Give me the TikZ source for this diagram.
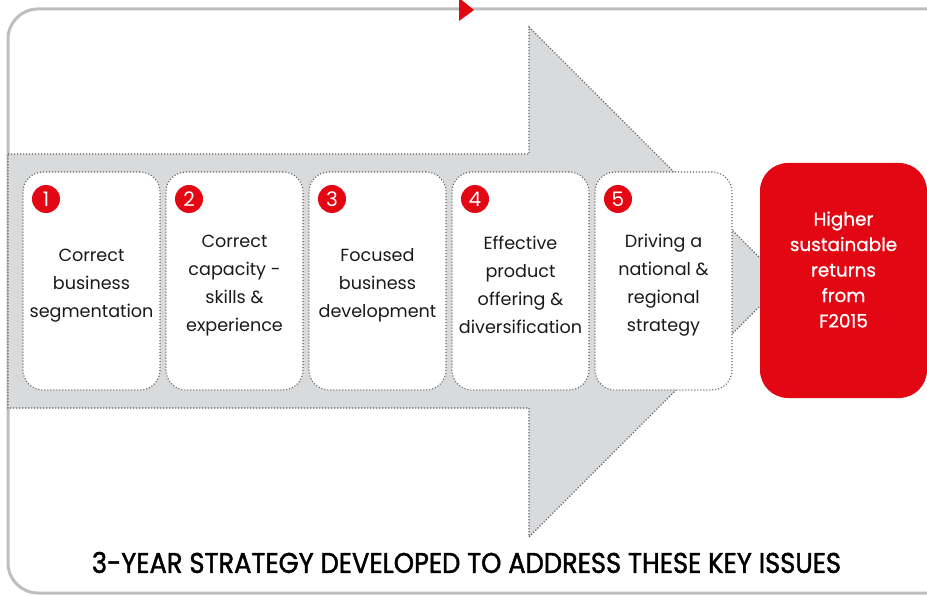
\documentclass[tikz,border=0pt]{standalone}
\usepackage{fontspec}
\setmainfont{Poppins}
\newfontfamily\goalfont[FakeBold=0.8]{Poppins}
\newfontfamily\captionfont[FakeBold=1.6]{Poppins}
\newcommand\topgap{\rule{0pt}{21pt}}
\definecolor{brandred}{HTML}{E30613}
\definecolor{framegray}{HTML}{BDBEC0}
\definecolor{arrowgray}{HTML}{D9DADC}
\definecolor{dotgray}{HTML}{5F6062}
\definecolor{inkdark}{HTML}{1A1A1A}
\begin{document}
\begin{tikzpicture}[x=1pt,y=-1pt,
  dots/.style={draw=dotgray, line width=1.1pt, dash pattern=on 1.1pt off 1.9pt},
  stepbox/.style={dots, fill=white, rounded corners=20pt, minimum width=137pt,
    minimum height=218pt, align=center, inner sep=0pt, text=inkdark,
    font=\fontsize{17.6}{28}\selectfont},
  badge/.style={circle, fill=brandred, minimum size=28pt, inner sep=0pt,
    text=white, font=\fontsize{20}{20}\selectfont},
  goal/.style={fill=brandred, rounded corners=28pt, minimum width=167pt,
    minimum height=235pt, align=center, inner sep=0pt, text=white,
    font=\goalfont\fontsize{18.4}{25.5}\selectfont,
    execute at end node={\rule[-22pt]{0pt}{0pt}}}
]
\useasboundingbox (0,0) rectangle (927,596);
\clip (0,0) rectangle (927,596);

% outer frame, open to the right
\draw[framegray, line width=3pt, rounded corners=30pt]
  (940,9) -- (8,9) -- (8,593) -- (940,593);
% small marker on the frame
\fill[brandred] (459,-2) -- (474,10) -- (459,21) -- cycle;

% big background arrow
\path[dots, fill=arrowgray]
  (8,154) -- (529,154) -- (529,27) -- (784,282) -- (529,537)
  -- (529,408) -- (8,408) -- cycle;

% the five steps
\node[stepbox] (s1) at (91.5,281) {\topgap Correct\\business\\segmentation};
\node[stepbox] (s2) at (234.5,281) {\topgap Correct\\capacity -\\skills \&\\experience};
\node[stepbox] (s3) at (377.5,281) {\topgap Focused\\business\\development};
\node[stepbox] (s4) at (520.5,281) {\topgap Effective\\product\\offering \&\\diversification};
\node[stepbox] (s5) at (663.5,281) {\topgap Driving a\\national \&\\regional\\strategy};

\node[badge] (b1) at (46,199) {1};
\node[badge] (b2) at (189,199) {2};
\node[badge] (b3) at (332,199) {3};
\node[badge] (b4) at (475,199) {4};
\node[badge] (b5) at (618,199) {5};

% outcome
\node[goal] (goal) at (843.5,280.5) {Higher\\sustainable\\returns\\from\\F2015};

% caption
\node[inner sep=0pt, text=black] (caption) at (466.5,562.5)
  {\resizebox{749pt}{21pt}{\captionfont 3-YEAR STRATEGY DEVELOPED TO ADDRESS THESE KEY ISSUES}};
\end{tikzpicture}
\end{document}
